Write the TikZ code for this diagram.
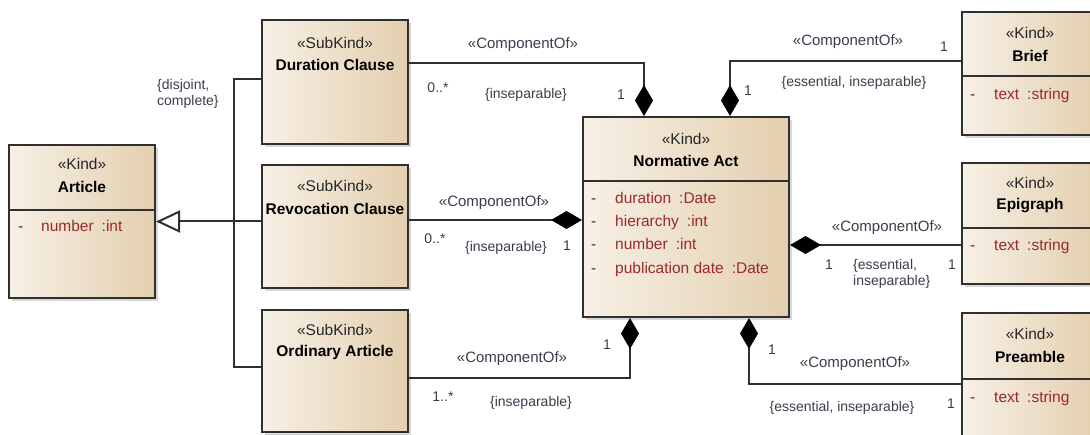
\documentclass[tikz,border=0pt]{standalone}
\usepackage{fontspec}
\setmainfont{Liberation Sans}
\usetikzlibrary{arrows.meta}
\usetikzlibrary{shadows}
\definecolor{clsL}{HTML}{F7F0E6}
\definecolor{clsR}{HTML}{E3CFAE}
\definecolor{edge}{HTML}{303030}
\definecolor{attr}{HTML}{9A2A2A}
\definecolor{note}{HTML}{3C3C4C}
\newcommand{\stereo}[1]{«#1»}
\tikzset{pix/.style={
  x=1pt,
  y=-1pt
}}
\tikzset{cls/.style={
  draw=edge,
  line width=2pt,
  left color=clsL,
  right color=clsR,
  shape=rectangle,
  inner sep=0pt,
  drop shadow={shadow xshift=3pt,shadow yshift=-3pt,fill=black!30},
}}
\tikzset{ster/.style={font=\fontsize{15.5}{18}\selectfont,text=black!85}}
\tikzset{ttl/.style={font=\fontsize{15.5}{18}\selectfont\bfseries,text=black}}
\tikzset{att/.style={
  anchor=west,
  inner sep=0pt,
  text height=11pt,
  text depth=3pt,
  font=\fontsize{15.5}{18}\selectfont,
  text=attr
}}
\tikzset{lbl/.style={font=\fontsize{14}{16}\selectfont,text=note,inner sep=0pt}}
\tikzset{clbl/.style={lbl,font=\fontsize{15}{17}\selectfont}}
\tikzset{cmpt/.style={draw=edge,line width=2pt}}
\tikzset{cmp/.style={cmpt,-{Diamond[length=31pt,width=18pt,color=black,fill=black]}}}
\tikzset{gen/.style={cmpt,-{Triangle[open,length=24pt,width=22pt]}}}

\begin{document}
\begin{tikzpicture}[pix]

    \fill[white] (0,0) rectangle (1090,435);
    \useasboundingbox (0,0) rectangle (1090,435);

    %% Classes

    % Article
    \node[cls,minimum width=146pt,minimum height=153pt] (art) at (82,221.5) {};
    \draw[cmpt] ([yshift=-66pt]art.north west) -- ([yshift=-66pt]art.north east);
    \node[ster] (artS) at ([yshift=-20pt]art.north) {\stereo{Kind}};
    \node[ttl] (artT) at ([yshift=-43pt]art.north) {Article};
    \node[att,text=edge] (artD) at ([xshift=10pt,yshift=-84pt]art.north west) {-};
    \node[att] (artA) at ([xshift=33pt,yshift=-84pt]art.north west)
      {number\hspace{8pt}:int};

    % Sub kinds
    \node[cls,minimum width=146pt,minimum height=124pt] (dur) at (335,82) {};
    \node[ster] (durS) at ([yshift=-24pt]dur.north) {\stereo{SubKind}};
    \node[ttl] (durT) at ([yshift=-46pt]dur.north) {Duration Clause};
    \node[cls,minimum width=146pt,minimum height=123pt] (rev) at (335,226.5) {};
    \node[ster] (revS) at ([yshift=-22pt]rev.north) {\stereo{SubKind}};
    \node[ttl] (revT) at ([yshift=-45pt]rev.north) {Revocation Clause};
    \node[cls,minimum width=146pt,minimum height=122pt] (ord) at (335,371) {};
    \node[ster] (ordS) at ([yshift=-21pt]ord.north) {\stereo{SubKind}};
    \node[ttl] (ordT) at ([yshift=-43pt]ord.north) {Ordinary Article};

    % Normative Act
    \node[cls,minimum width=206pt,minimum height=200pt] (nact) at (686,217) {};
    \draw[cmpt] ([yshift=-65pt]nact.north west) -- ([yshift=-65pt]nact.north east);
    \node[ster] (nactS) at ([yshift=-23pt]nact.north) {\stereo{Kind}};
    \node[ttl] (nactT) at ([yshift=-45pt]nact.north) {Normative Act};
    \foreach \a/\t [count=\i] in {duration/Date,hierarchy/int,number/int,publication date/Date} {
      \node[att,text=attr!70!black] (nactD\i) at ([xshift=9pt,yshift=-60pt-23.3pt*\i]nact.north west) {-};
      \node[att] (nactA\i) at ([xshift=33pt,yshift=-60pt-23.3pt*\i]nact.north west)
        {\a\hspace{8pt}:\t};
    }

    % Parts on the right
    \node[cls,minimum width=136pt,minimum height=123pt] (brief) at (1030,73.5) {};
    \draw[cmpt] ([yshift=-65pt]brief.north west) -- ([yshift=-65pt]brief.north east);
    \node[ster] (briefS) at ([yshift=-22pt]brief.north) {\stereo{Kind}};
    \node[ttl] (briefT) at ([yshift=-45pt]brief.north) {Brief};
    \node[att,text=attr!70!black] (briefD) at ([xshift=9pt,yshift=-85pt]brief.north west) {-};
    \node[att] (briefA) at ([xshift=33pt,yshift=-85pt]brief.north west)
      {text\hspace{8pt}:string};

    \node[cls,minimum width=136pt,minimum height=121pt] (epig) at (1030,223.5) {};
    \draw[cmpt] ([yshift=-66pt]epig.north west) -- ([yshift=-66pt]epig.north east);
    \node[ster] (epigS) at ([yshift=-21pt]epig.north) {\stereo{Kind}};
    \node[ttl] (epigT) at ([yshift=-44pt]epig.north) {Epigraph};
    \node[att,text=attr!70!black] (epigD) at ([xshift=9pt,yshift=-85pt]epig.north west) {-};
    \node[att] (epigA) at ([xshift=33pt,yshift=-85pt]epig.north west)
      {text\hspace{8pt}:string};

    \node[cls,minimum width=136pt,minimum height=127pt] (pream) at (1030,376.5) {};
    \draw[cmpt] ([yshift=-67pt]pream.north west) -- ([yshift=-67pt]pream.north east);
    \node[ster] (preamS) at ([yshift=-22pt]pream.north) {\stereo{Kind}};
    \node[ttl] (preamT) at ([yshift=-45pt]pream.north) {Preamble};
    \node[att,text=attr!70!black] (preamD) at ([xshift=9pt,yshift=-87pt]pream.north west) {-};
    \node[att] (preamA) at ([xshift=33pt,yshift=-87pt]pream.north west)
      {text\hspace{8pt}:string};

    %% Generalization set

    \coordinate (fork) at (234,221.5);
    \draw[cmpt] ([yshift=3pt]dur.west) -| (fork) |- ([yshift=4pt]ord.west);
    \draw[cmpt] ([yshift=5pt]rev.west) -- (fork);
    \draw[gen] (fork) -- (art.east);
    \node[lbl,align=left,anchor=north west] (gset) at (157,79)
      {\{disjoint,\\complete\}};

    %% Compositions

    % Duration Clause
    \coordinate (durO) at ([yshift=19pt]dur.east);
    \draw[cmp] (durO) -| ([xshift=-42pt]nact.north);
    \node[clbl] (durC) at (523,45) {\stereo{ComponentOf}};
    \node[lbl] (durM) at (438,88) {0..*};
    \node[lbl] (durN) at (526,95) {\{inseparable\}};
    \node[lbl] (durW) at (621,95) {1};

    % Revocation Clause
    \coordinate (revO) at ([yshift=6.5pt]rev.east);
    \draw[cmp] (revO) -- (revO -| nact.west);
    \node[clbl] (revC) at (494,203) {\stereo{ComponentOf}};
    \node[lbl] (revM) at (435,239) {0..*};
    \node[lbl] (revN) at (506,248) {\{inseparable\}};
    \node[lbl] (revW) at (567,246) {1};

    % Ordinary Article
    \coordinate (ordO) at ([yshift=-7pt]ord.east);
    \draw[cmp] (ordO) -| ([xshift=-56pt]nact.south);
    \node[clbl] (ordC) at (512,359) {\stereo{ComponentOf}};
    \node[lbl] (ordM) at (443,397) {1..*};
    \node[lbl] (ordN) at (531,403) {\{inseparable\}};
    \node[lbl] (ordW) at (607,345) {1};

    % Brief
    \coordinate (briefO) at ([yshift=12.5pt]brief.west);
    \draw[cmp] (briefO) -| ([xshift=44pt]nact.north);
    \node[clbl] (briefC) at (848,42) {\stereo{ComponentOf}};
    \node[lbl] (briefM) at (944,47) {1};
    \node[lbl] (briefN) at (854,83) {\{essential, inseparable\}};
    \node[lbl] (briefW) at (748,91) {1};

    % Epigraph
    \coordinate (epigO) at ([yshift=-21.5pt]epig.west);
    \draw[cmp] (epigO) -- (epigO -| nact.east);
    \node[clbl] (epigC) at (887,228) {\stereo{ComponentOf}};
    \node[lbl] (epigW) at (829,265) {1};
    \node[lbl,align=left,anchor=north west] (epigN) at (853,259)
      {\{essential,\\inseparable\}};
    \node[lbl] (epigM) at (952,265) {1};

    % Preamble
    \coordinate (preamO) at ([yshift=-7.5pt]pream.west);
    \draw[cmp] (preamO) -| ([xshift=63pt]nact.south);
    \node[lbl] (preamW) at (772,350) {1};
    \node[clbl] (preamC) at (855,364) {\stereo{ComponentOf}};
    \node[lbl] (preamN) at (842,408) {\{essential, inseparable\}};
    \node[lbl] (preamM) at (951,404) {1};

\end{tikzpicture}
\end{document}
